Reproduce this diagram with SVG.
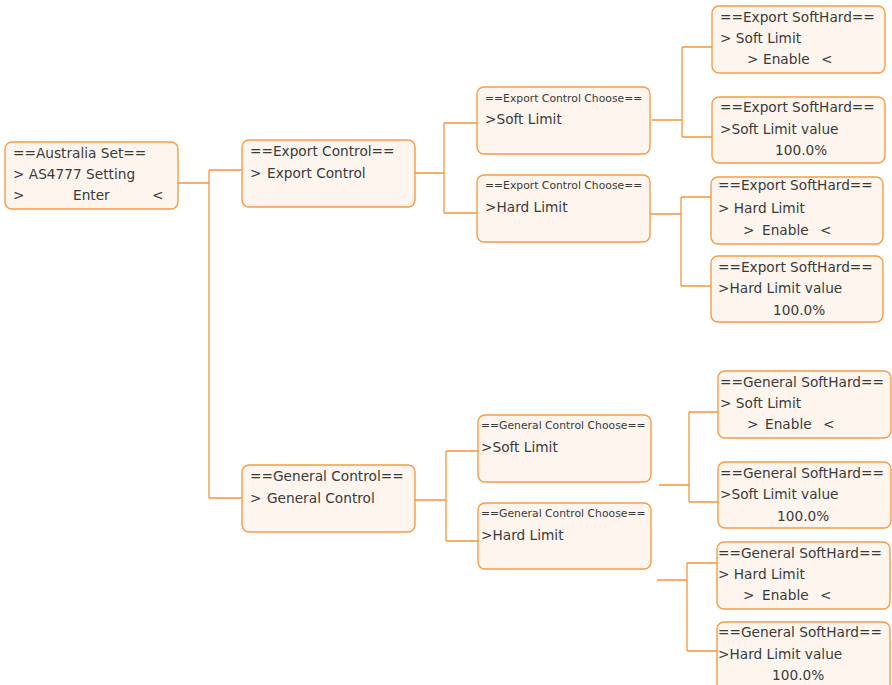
<svg xmlns="http://www.w3.org/2000/svg" width="892" height="685" viewBox="0 0 892 685">
<style>
.box{fill:#FDF5EE;stroke:#F59C48;stroke-width:1.4}
.ln{fill:none;stroke:#F3963F;stroke-width:1.3}
.t{font-family:"DejaVu Sans",sans-serif;font-size:13.7px;fill:#3a3a3a}
.s{font-size:10.8px}
</style>
<rect width="892" height="685" fill="#ffffff"/>
<g id="connectors">
<path class="ln" d="M178,183H209M209,170V498M209,170H242M209,498H242"/>
<path class="ln" d="M415,173H444M444,123V213M444,123H477M444,213H477"/>
<path class="ln" d="M652,120H682M682,47V137M682,47H712M682,137H712"/>
<path class="ln" d="M650,214H681M681,197V286M681,197H711M681,286H711"/>
<path class="ln" d="M415,500H446M446,451V541M446,451H478M446,541H478"/>
<path class="ln" d="M659,485H689M689,412V502M689,412H718M689,502H718"/>
<path class="ln" d="M657,580H687M687,563V651M687,563H717M687,651H717"/>
</g>
<g id="australia">
<rect class="box" x="5" y="142" width="173" height="67" rx="7"/>
<text class="t" x="13" y="158">==Australia Set==</text>
<text class="t" x="13" y="179">&gt; AS4777 Setting</text>
<text class="t" y="200"><tspan x="13">&gt;</tspan><tspan x="73">Enter</tspan><tspan x="152">&lt;</tspan></text>
</g>
<g id="export-control">
<rect class="box" x="242" y="140" width="173" height="67" rx="7"/>
<text class="t" x="250" y="156">==Export Control==</text>
<text class="t" y="178"><tspan x="250">&gt;</tspan><tspan x="267">Export Control</tspan></text>
</g>
<g id="export-soft-choose">
<rect class="box" x="477" y="87" width="173" height="67" rx="7"/>
<text class="t s" x="485" y="102">==Export Control Choose==</text>
<text class="t" x="485" y="124">&gt;Soft Limit</text>
</g>
<g id="export-hard-choose">
<rect class="box" x="477" y="175" width="173" height="67" rx="7"/>
<text class="t s" x="485" y="189">==Export Control Choose==</text>
<text class="t" x="485" y="212">&gt;Hard Limit</text>
</g>
<g id="export-soft-enable">
<rect class="box" x="712" y="6" width="173" height="67" rx="7"/>
<text class="t" x="720" y="22">==Export SoftHard==</text>
<text class="t" x="720" y="43">&gt; Soft Limit</text>
<text class="t" y="64"><tspan x="747">&gt;</tspan><tspan x="763">Enable</tspan><tspan x="821">&lt;</tspan></text>
</g>
<g id="export-soft-value">
<rect class="box" x="712" y="97" width="173" height="66" rx="7"/>
<text class="t" x="720" y="112">==Export SoftHard==</text>
<text class="t" x="720" y="134">&gt;Soft Limit value</text>
<text class="t" x="775" y="155">100.0%</text>
</g>
<g id="export-hard-enable">
<rect class="box" x="711" y="177" width="172" height="67" rx="7"/>
<text class="t" x="718" y="190">==Export SoftHard==</text>
<text class="t" x="718" y="213">&gt; Hard Limit</text>
<text class="t" y="235"><tspan x="743">&gt;</tspan><tspan x="762">Enable</tspan><tspan x="820">&lt;</tspan></text>
</g>
<g id="export-hard-value">
<rect class="box" x="711" y="256" width="172" height="66" rx="7"/>
<text class="t" x="718" y="272">==Export SoftHard==</text>
<text class="t" x="718" y="293">&gt;Hard Limit value</text>
<text class="t" x="773" y="315">100.0%</text>
</g>
<g id="general-control">
<rect class="box" x="242" y="465" width="173" height="67" rx="7"/>
<text class="t" x="250" y="481">==General Control==</text>
<text class="t" y="503"><tspan x="250">&gt;</tspan><tspan x="267">General Control</tspan></text>
</g>
<g id="general-soft-choose">
<rect class="box" x="478" y="415" width="173" height="67" rx="7"/>
<text class="t s" x="481" y="429">==General Control Choose==</text>
<text class="t" x="481" y="452">&gt;Soft Limit</text>
</g>
<g id="general-hard-choose">
<rect class="box" x="478" y="503" width="173" height="66" rx="7"/>
<text class="t s" x="481" y="517">==General Control Choose==</text>
<text class="t" x="481" y="540">&gt;Hard Limit</text>
</g>
<g id="general-soft-enable">
<rect class="box" x="718" y="371" width="173" height="67" rx="7"/>
<text class="t" x="720" y="387">==General SoftHard==</text>
<text class="t" x="720" y="408">&gt; Soft Limit</text>
<text class="t" y="429"><tspan x="747">&gt;</tspan><tspan x="765">Enable</tspan><tspan x="823">&lt;</tspan></text>
</g>
<g id="general-soft-value">
<rect class="box" x="718" y="462" width="173" height="66" rx="7"/>
<text class="t" x="720" y="478">==General SoftHard==</text>
<text class="t" x="720" y="499">&gt;Soft Limit value</text>
<text class="t" x="777" y="521">100.0%</text>
</g>
<g id="general-hard-enable">
<rect class="box" x="717" y="542" width="173" height="67" rx="7"/>
<text class="t" x="718" y="558">==General SoftHard==</text>
<text class="t" x="718" y="579">&gt; Hard Limit</text>
<text class="t" y="600"><tspan x="743">&gt;</tspan><tspan x="762">Enable</tspan><tspan x="820">&lt;</tspan></text>
</g>
<g id="general-hard-value">
<rect class="box" x="717" y="622" width="173" height="70" rx="7"/>
<text class="t" x="718" y="637">==General SoftHard==</text>
<text class="t" x="718" y="659">&gt;Hard Limit value</text>
<text class="t" x="772" y="680">100.0%</text>
</g>
</svg>
